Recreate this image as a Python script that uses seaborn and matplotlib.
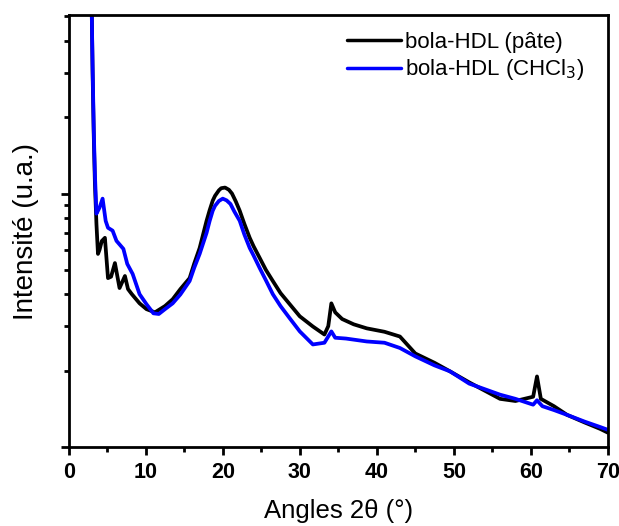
import numpy as np
import pandas as pd
import seaborn as sns
import matplotlib.pyplot as plt
from matplotlib.ticker import LogLocator, NullFormatter, MultipleLocator

# values (2theta in degrees, intensity in arbitrary units, log scale)
angle_pate = [2.9, 3.0, 3.1, 3.25, 3.4, 3.6, 3.8, 4.0, 4.3, 4.7, 5.1, 5.5, 6.0, 6.6, 7.3, 7.7,
              8.2, 9.2, 10.1, 11.2, 12.5, 13.5, 14.5, 15.7, 16.3, 17.0, 17.9, 18.3, 18.7, 19.0,
              19.5, 19.8, 20.3, 20.8, 21.2, 21.7, 22.2, 22.8, 23.5, 24.0, 24.8, 25.6, 26.5,
              27.5, 28.7, 30.0, 31.7, 33.2, 33.7, 34.1, 34.6, 35.5, 37.0,
              38.7, 41.0, 43.0, 45.0, 47.5, 49.5, 52.0, 56.0, 58.0, 60.3, 60.8, 61.3, 63.0,
              64.7, 67.0, 69.0, 70.0]
int_pate = [8000, 5000, 3000, 1700, 1100, 760, 578, 600, 650, 669, 464, 470, 532, 424, 473, 420,
            401, 369, 350, 340, 360, 383, 420, 464, 530, 610, 781, 860, 938, 980,
            1030, 1050, 1056, 1035, 1000, 930, 856, 760, 669, 620, 557, 500, 452,
            405, 366, 328, 299, 278, 300, 369, 340, 320, 305,
            294, 285, 273, 234, 215, 199, 180, 155, 152, 158, 190, 155, 145,
            134, 125, 118, 114]

angle_chcl3 = [2.9, 3.0, 3.1, 3.25, 3.4, 3.6, 4.0, 4.4, 4.8, 5.1, 5.7, 6.2, 7.1, 7.6, 8.3, 9.2,
               10.1, 11.0, 11.7, 12.5, 13.5, 14.5, 15.7, 16.3, 17.0, 17.9, 18.3, 18.7, 19.0,
               19.5, 20.0, 20.5, 21.0, 21.5, 22.2, 22.8, 23.5, 24.0, 24.8, 25.6, 26.5, 27.5,
               28.7, 30.0, 31.7, 33.2, 34.1, 34.6, 36.0, 38.7, 41.0,
               43.0, 45.0, 47.5, 49.5, 52.0, 56.0, 58.0, 60.3, 60.8, 61.5, 63.0, 64.7, 67.0,
               69.0, 70.0]
int_chcl3 = [8000, 5000, 3200, 1800, 1200, 833, 880, 955, 780, 733, 714, 651, 605, 528, 482, 401,
             366, 337, 335, 350, 369, 400, 452, 510, 578, 700, 780, 856, 895,
             935, 955, 940, 910, 850, 781, 690, 610, 570, 508, 455, 401, 360,
             322, 286, 254, 258, 286, 270, 268, 261, 258,
             246, 228, 210, 199, 178, 161, 155, 147, 153, 145, 140, 134, 126,
             120, 117]

labels = ["bola-HDL (pâte)", "bola-HDL (CHCl$_3$)"]

df = pd.concat([
    pd.DataFrame({"angle": angle_pate, "intensite": int_pate, "echantillon": labels[0]}),
    pd.DataFrame({"angle": angle_chcl3, "intensite": int_chcl3, "echantillon": labels[1]}),
])

sns.set_style("ticks")
plt.rcParams['font.family'] = ['Liberation Sans', 'DejaVu Sans']
plt.rcParams['axes.edgecolor'] = 'black'
plt.rcParams['xtick.color'] = 'black'
plt.rcParams['ytick.color'] = 'black'
plt.rcParams['text.color'] = 'black'
plt.rcParams['axes.labelcolor'] = 'black'
plt.rcParams['xtick.labelsize'] = 15.5
plt.rcParams['xtick.major.pad'] = 5
plt.rcParams['xtick.direction'] = 'out'
plt.rcParams['ytick.direction'] = 'out'

fig, ax = plt.subplots(figsize=(6.19, 5.26), dpi=100)
fig.subplots_adjust(left=0.111, right=0.982, top=0.971, bottom=0.150)

sns.lineplot(data=df, x="angle", y="intensite", hue="echantillon", sort=False,
             palette=["black", "#0000ff"], linewidth=2.7, ax=ax)

ax.set_yscale("log")
ax.set_xlim(0, 70)
ax.set_ylim(100, 5050)
ax.xaxis.set_major_locator(MultipleLocator(10))
ax.xaxis.set_minor_locator(MultipleLocator(5))
ax.yaxis.set_major_locator(LogLocator(base=10))
ax.yaxis.set_minor_locator(LogLocator(base=10, subs=np.arange(2, 10)))
ax.yaxis.set_major_formatter(NullFormatter())
ax.yaxis.set_minor_formatter(NullFormatter())

for side in ax.spines.values():
    side.set_linewidth(2)
ax.tick_params(which="major", width=2, length=6)
ax.tick_params(which="minor", width=2, length=3.5)

ax.set_xlabel("Angles 2θ (°)", fontsize=18.5, labelpad=11)
ax.set_ylabel("Intensité (u.a.)", fontsize=20, labelpad=12)

leg = ax.legend(loc="upper right", bbox_to_anchor=(0.988, 1.0), frameon=False, fontsize=16,
                handlelength=2.4, handletextpad=0.2, labelspacing=0.2, borderaxespad=0.35)
for h in leg.get_lines():
    h.set_linewidth(2.5)

for t in ax.get_xticklabels():
    t.set_fontweight("bold")

fig.savefig("out.png", dpi=100)
